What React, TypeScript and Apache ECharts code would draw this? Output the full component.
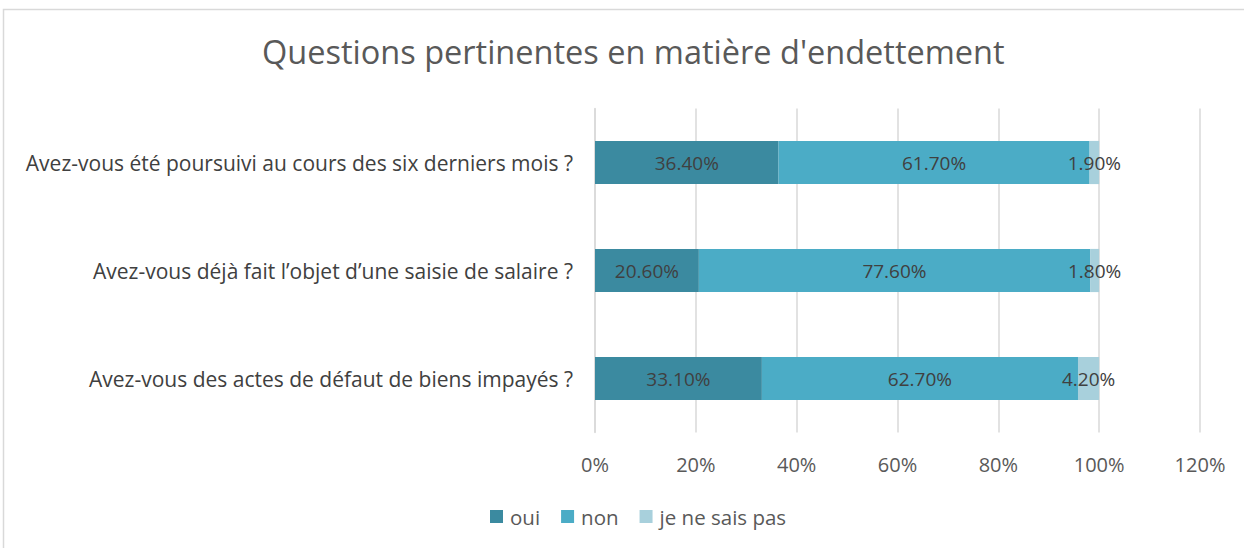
import React, { useEffect, useRef } from "react";
import * as echarts from "echarts";

const categories = [
  "Avez-vous été poursuivi au cours des six derniers mois ?",
  "Avez-vous déjà fait l’objet d’une saisie de salaire ?",
  "Avez-vous des actes de défaut de biens impayés ?",
];
const seriesNames = ["oui", "non", "je ne sais pas"];
const ouiValues = [36.4, 20.6, 33.1];
const nonValues = [61.7, 77.6, 62.7];
const nspValues = [1.9, 1.8, 4.2];
const colors = ["#3B8AA0", "#4BACC6", "#A8D0DC"];

const FONT = "'Open Sans', 'Noto Sans', sans-serif";

export default function App() {
  const ref = useRef<HTMLDivElement>(null);
  useEffect(() => {
    document.body.style.margin = "0";
    const chart = echarts.init(ref.current!, null, { renderer: "svg" });
    const values = [ouiValues, nonValues, nspValues];
    chart.setOption({
      animation: false,
      backgroundColor: "#ffffff",
      textStyle: { fontFamily: FONT },
      title: {
        text: "Questions pertinentes en matière d'endettement",
        left: 257,
        top: 30,
        textStyle: { fontFamily: FONT, fontSize: 32.5, fontWeight: "normal", color: "#595959" },
      },
      graphic: [
        {
          type: "rect",
          shape: { x: 3.5, y: 9.5, width: 1260, height: 560 },
          style: { fill: "none", stroke: "#D9D9D9", lineWidth: 1.5 },
          silent: true,
        },
      ],
      legend: {
        bottom: 16,
        left: 485,
        itemWidth: 13,
        itemHeight: 13,
        itemGap: 21,
        icon: "rect",
        textStyle: { fontFamily: FONT, fontSize: 20.5, color: "#595959", padding: [0, 0, 0, 2] },
        data: seriesNames,
      },
      grid: { left: 595, width: 605, top: 108.5, height: 324, containLabel: false },
      xAxis: {
        type: "value",
        min: 0,
        max: 120,
        interval: 20,
        axisLabel: { formatter: "{value}%", fontFamily: FONT, fontSize: 20, color: "#595959", margin: 22 },
        splitLine: { show: true, lineStyle: { color: "#D9D9D9", width: 1.5 } },
        axisLine: { show: false },
        axisTick: { show: false },
      },
      yAxis: {
        type: "category",
        inverse: true,
        data: categories,
        axisLabel: { fontFamily: FONT, fontSize: 21, color: "#404040", margin: 22 },
        axisLine: { show: true, lineStyle: { color: "#D9D9D9", width: 1.5 } },
        axisTick: { show: false },
      },
      series: seriesNames.map((name, i) => ({
        name,
        type: "bar",
        stack: "total",
        barCategoryGap: "60%",
        itemStyle: { color: colors[i] },
        label: {
          show: true,
          position: "inside",
          formatter: (p: any) => p.value.toFixed(2) + "%",
          fontFamily: FONT,
          fontSize: 19,
          color: "#404040",
        },
        data: values[i],
      })),
    });
    return () => chart.dispose();
  }, []);
  return <div ref={ref} style={{ width: 1244, height: 548 }} />;
}
